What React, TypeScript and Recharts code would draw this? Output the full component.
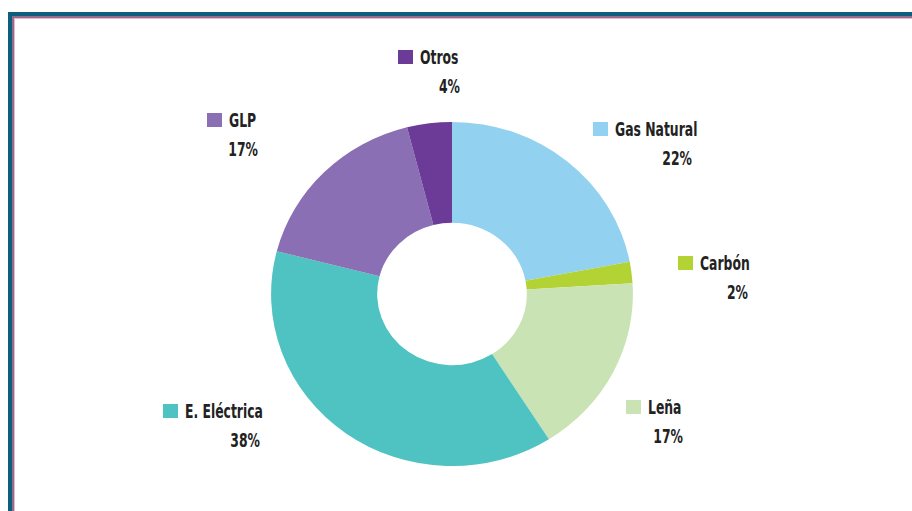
import { PieChart, Pie, Cell } from "recharts";

const categories = ["Gas Natural", "Carbón", "Leña", "E. Eléctrica", "GLP", "Otros"];
const shares = [22, 2, 17, 38, 17, 4];
const colors = ["#92d1ef", "#b3d335", "#c9e3b5", "#4ec3c1", "#8b6fb4", "#6c3b97"];

// square top-left offset from pie centre (screen px), and right edge of the % text (from square x)
const labelPos: Record<string, { dx: number; dy: number; pctRight: number }> = {
  "Gas Natural": { dx: 141, dy: -172, pctRight: 99 },
  "Carbón": { dx: 226, dy: -38, pctRight: 70 },
  "Leña": { dx: 174, dy: 106, pctRight: 57 },
  "E. Eléctrica": { dx: -289, dy: 110, pctRight: 97 },
  "GLP": { dx: -245, dy: -181, pctRight: 51 },
  "Otros": { dx: -54, dy: -244, pctRight: 62 },
};

const data = categories.map((name, i) => ({ name, value: shares[i] }));

// the source donut is slightly wider than tall
const SX = 1.025;
const SY = 0.975;
const CX = 452;
const CY = 294;

const SQUEEZE = 0.62;
const textStyle = { fontFamily: "DejaVu Sans", fontWeight: 700, fontSize: 20, fill: "#222" };

function SliceLabel(props: any) {
  const { cx, cy, name, value, index } = props;
  const pos = labelPos[name];
  if (!pos) return null;
  const x = cx + pos.dx / SX;
  const y = cy + pos.dy / SY;
  return (
    <g transform={`translate(${x},${y}) scale(${1 / SX},${1 / SY})`}>
      <rect x={0} y={0} width={15} height={14} fill={colors[index]} />
      <text transform={`translate(22,14) scale(${SQUEEZE},1)`} style={textStyle}>
        {name}
      </text>
      <text
        transform={`translate(${pos.pctRight},43) scale(${SQUEEZE},1)`}
        textAnchor="end"
        style={textStyle}
      >
        {value}%
      </text>
    </g>
  );
}

export default function App() {
  return (
    <div style={{ position: "relative", width: 912, height: 511, background: "#fff", overflow: "hidden" }}>
      <style>{"body{margin:0}"}</style>
      {/* frame lines */}
      <div style={{ position: "absolute", left: 8, top: 12, width: 904, height: 4, background: "#0e5e7e" }} />
      <div style={{ position: "absolute", left: 8, top: 12, width: 4, height: 499, background: "#0e5e7e" }} />
      <div style={{ position: "absolute", left: 12, top: 16, width: 900, height: 1.5, background: "#9a6a8a" }} />
      <div style={{ position: "absolute", left: 12, top: 16, width: 2, height: 495, background: "#9a6a8a" }} />
      <div style={{ position: "absolute", left: 14, top: 17.5, width: 898, height: 1, background: "#dcc0d2" }} />
      <div style={{ position: "absolute", left: 14, top: 17.5, width: 1, height: 494, background: "#dcc0d2" }} />
      <div
        style={{
          position: "absolute",
          left: 0,
          top: 0,
          transform: `scale(${SX},${SY})`,
          transformOrigin: `${CX}px ${CY}px`,
        }}
      >
        <PieChart width={912} height={511} margin={{ top: 0, right: 0, bottom: 0, left: 0 }}>
          <Pie
            data={data}
            dataKey="value"
            nameKey="name"
            cx={CX}
            cy={CY}
            innerRadius={73}
            outerRadius={176.5}
            startAngle={90}
            endAngle={-270}
            stroke="none"
            label={SliceLabel}
            labelLine={false}
            isAnimationActive={false}
          >
            {data.map((d, i) => (
              <Cell key={d.name} fill={colors[i]} />
            ))}
          </Pie>
        </PieChart>
      </div>
    </div>
  );
}
